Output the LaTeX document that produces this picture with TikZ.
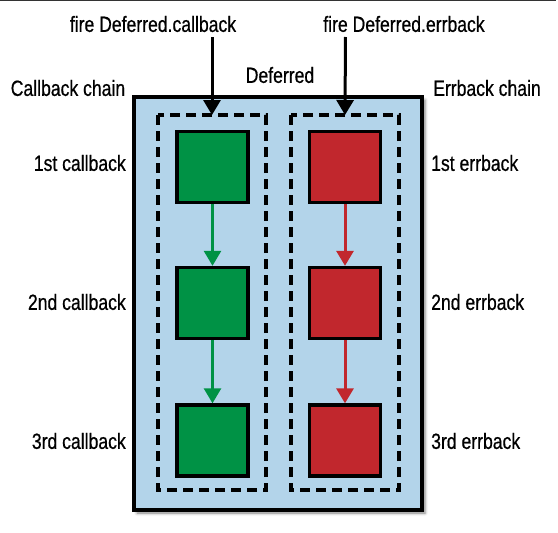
\documentclass[tikz,border=0pt]{standalone}
\usepackage{fontspec}
\setmainfont{Liberation Sans}[FakeStretch=0.8,FakeBold=0.6]
\usetikzlibrary{arrows.meta,shadows.blur}
\definecolor{bgblue}{RGB}{179,212,234}
\definecolor{cbgreen}{RGB}{0,146,69}
\definecolor{ebred}{RGB}{193,39,45}
\tikzset{
  lbl/.style={font=\fontsize{22}{24}\selectfont, inner sep=0pt},
  sq/.style={draw=black, line width=3.4pt, minimum width=71pt, minimum height=71pt, inner sep=0pt},
  gsq/.style={sq, fill=cbgreen},
  rsq/.style={sq, fill=ebred},
  chainbox/.style={draw=black, line width=3.2pt, dash pattern=on 10pt off 6pt},
  blackarrow/.style={draw=black, line width=3pt, -{Triangle[length=15pt,width=17pt]}},
  garrow/.style={draw=cbgreen, line width=2.8pt, -{Triangle[length=15pt,width=17pt]}},
  rarrow/.style={draw=ebred, line width=3pt, -{Triangle[length=15pt,width=17pt]}},
}
\begin{document}
\begin{tikzpicture}[x=1pt,y=-1pt]
\useasboundingbox (0,0) rectangle (558,533);
\draw[line width=1.4pt, black!80] (0,0.7) -- (556,0.7);
% deferred box
\node[draw=black, line width=3.4pt, fill=bgblue, minimum width=288pt, minimum height=413pt, inner sep=0pt,
      blur shadow={shadow xshift=3pt, shadow yshift=-3pt, shadow blur radius=3pt, shadow opacity=50}]
      (deferred) at (278,303.5) {};
% chain boxes
\draw[chainbox] (158,115) rectangle (266,490);
\draw[chainbox] (291,115) rectangle (399,490);
\coordinate (ltop) at (212,115);
\coordinate (rtop) at (345,115);
% squares
\node[gsq] (g1) at (212.5,167) {};
\node[gsq] (g2) at (212.5,303) {};
\node[gsq] (g3) at (212.5,440.5) {};
\node[rsq] (r1) at (345,167) {};
\node[rsq] (r2) at (345,303) {};
\node[rsq] (r3) at (345,440.5) {};
\draw[garrow] (g1.south) -- (g2.north);
\draw[garrow] (g2.south) -- (g3.north);
\draw[rarrow] (r1.south) -- (r2.north);
\draw[rarrow] (r2.south) -- (r3.north);
% labels
\node[lbl] (fcb) at (153,24) {fire Deferred.callback};
\node[lbl] (feb) at (404,24) {fire Deferred.errback};
\draw[blackarrow] (212,37) -- (ltop);
\draw[blackarrow] (345.5,37) -- (rtop);
\node[lbl] (dlbl) at (280,75) {Deferred};
\node[lbl] (cbc) at (68,88) {Callback chain};
\node[lbl] (ebc) at (487,88) {Errback chain};
\node[lbl, anchor=east] (c1) at (126,163) {1st callback};
\node[lbl, anchor=east] (c2) at (126,302) {2nd callback};
\node[lbl, anchor=east] (c3) at (126,441) {3rd callback};
\node[lbl, anchor=west] (e1) at (431,163) {1st errback};
\node[lbl, anchor=west] (e2) at (431,302) {2nd errback};
\node[lbl, anchor=west] (e3) at (431,441) {3rd errback};
\end{tikzpicture}
\end{document}
